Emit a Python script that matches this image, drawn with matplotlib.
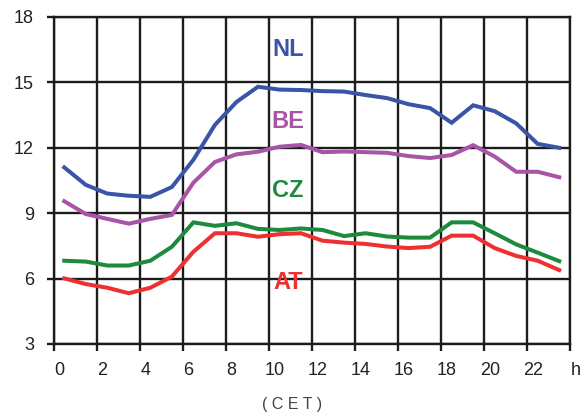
import matplotlib
matplotlib.use('Agg')
import matplotlib.pyplot as plt
import matplotlib.transforms as mtransforms

# hourly values, hour centres 0.5 .. 23.5
hours = [h + 0.5 for h in range(24)]
nl = [11.1, 10.3, 9.9, 9.8, 9.75, 10.2, 11.45, 13.05, 14.1, 14.8, 14.67, 14.65,
      14.6, 14.58, 14.42, 14.28, 14.0, 13.82, 13.15, 13.95, 13.68, 13.12, 12.18, 12.0]
be = [9.55, 8.96, 8.74, 8.52, 8.74, 8.92, 10.4, 11.35, 11.7, 11.82, 12.05, 12.13,
      11.8, 11.83, 11.8, 11.77, 11.62, 11.53, 11.67, 12.12, 11.6, 10.9, 10.9, 10.65]
cz = [6.82, 6.78, 6.6, 6.6, 6.82, 7.46, 8.58, 8.42, 8.54, 8.28, 8.23, 8.3,
      8.23, 7.95, 8.08, 7.93, 7.88, 7.88, 8.58, 8.58, 8.08, 7.57, 7.19, 6.8]
at = [6.01, 5.75, 5.58, 5.33, 5.58, 6.09, 7.23, 8.08, 8.08, 7.92, 8.04, 8.08,
      7.74, 7.65, 7.59, 7.47, 7.4, 7.46, 7.97, 7.97, 7.4, 7.04, 6.82, 6.39]

series = [
    ('NL', nl, '#3a55a8', 16.5),
    ('BE', be, '#a855a8', 13.2),
    ('CZ', cz, '#1e8a3e', 10.05),
    ('AT', at, '#ee3130', 5.8),
]

xticks = list(range(0, 24, 2))
yticks = [3, 6, 9, 12, 15, 18]

plt.rcParams['font.family'] = ['Liberation Sans', 'DejaVu Sans']

fig = plt.figure(figsize=(5.87, 4.16), dpi=100)
ax = fig.add_axes([53.5 / 587, 1 - 344 / 416, (570 - 53.5) / 587, (344 - 17) / 416])

for name, vals, color, ly in series:
    ax.plot(hours, vals, color=color, lw=2.9, solid_joinstyle='miter', zorder=3)
    ax.text(10.9, ly, name, color=color, fontsize=17, fontweight='bold',
            ha='center', va='center', zorder=4)

ax.set_xlim(0, 24)
ax.set_ylim(3, 18)
ax.set_xticks(list(range(0, 25, 2)))
ax.set_xticklabels([str(t) for t in xticks] + ['h'])
ax.set_yticks(yticks)
ax.grid(True, color='#1c1c1c', lw=1.7, zorder=1)
for s in ax.spines.values():
    s.set_color('#1c1c1c')
    s.set_linewidth(1.7)
ax.tick_params(axis='both', length=5, width=1.7, color='#1c1c1c',
               labelsize=13, labelcolor='#222222')
ax.tick_params(axis='x', pad=8)
ax.tick_params(axis='y', pad=9)

# tick labels sit a little right of the grid lines in the original
offset = mtransforms.ScaledTranslation(0.06, 0, fig.dpi_scale_trans)
for lab in ax.get_xticklabels():
    lab.set_transform(lab.get_transform() + offset)

fig.text(292 / 587, 1 - 405 / 416, '( C E T )', ha='center', va='center',
         fontsize=11.5, color='#444444')

fig.savefig('out.png', dpi=100)
